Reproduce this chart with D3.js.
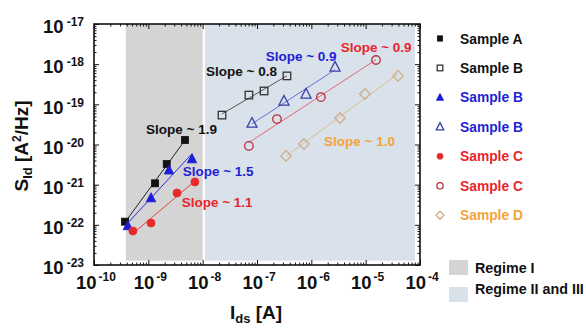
<!DOCTYPE html>
<html><head><meta charset="utf-8">
<script src="https://cdn.jsdelivr.net/npm/d3@7"></script>
<style>body{margin:0;background:#fff}svg{display:block;font-family:"Liberation Sans",Arial,sans-serif;font-weight:bold}</style>
</head><body><svg id="c" width="586" height="329"></svg>
<script>
// ---- data ----
const xDomain = [1e-10, 1e-4];
const yDomain = [1e-23, 1e-17];
const xTickExps = [-10, -9, -8, -7, -6, -5, -4];
const yTickExps = [-23, -22, -21, -20, -19, -18, -17];

const regimeI = [3.85e-10, 1.0e-8];
const regimeII = [1.1e-8, 8.1e-5];
const regimeY = [1.28e-23, 1e-17];

const aX = [3.72e-10, 1.33e-9, 2.18e-9, 4.73e-9];
const aY = [1.2e-22, 1.08e-21, 3.27e-21, 1.29e-20];
const bSqX = [2.27e-8, 7.1e-8, 1.35e-7, 3.56e-7];
const bSqY = [5.4e-20, 1.7e-19, 2.15e-19, 5.1e-19];
const bTriX = [4.2e-10, 1.12e-9, 2.4e-9, 6.37e-9];
const bTriY = [9.4e-23, 4.66e-22, 2.3e-21, 4.35e-21];
const bTriOX = [8.1e-8, 3.14e-7, 7.98e-7, 2.73e-6];
const bTriOY = [3.4e-20, 1.21e-19, 1.81e-19, 8.5e-19];
const cX = [5.2e-10, 1.12e-9, 3.37e-9, 7.2e-9];
const cY = [7.0e-23, 1.11e-22, 6.2e-22, 1.17e-21];
const cOX = [7.1e-8, 2.33e-7, 1.5e-6, 1.55e-5];
const cOY = [9.2e-21, 4.3e-20, 1.52e-19, 1.27e-18];
const dX = [3.42e-7, 7.3e-7, 3.37e-6, 9.7e-6, 3.94e-5];
const dY = [5.2e-21, 1.03e-20, 4.57e-20, 1.81e-19, 5.1e-19];

const legendLabels = ["Sample A", "Sample B", "Sample B", "Sample B", "Sample C", "Sample C", "Sample D"];
const slopeLabels = ["Slope ~ 1.9", "Slope ~ 0.8", "Slope ~ 1.5", "Slope ~ 0.9", "Slope ~ 1.1", "Slope ~ 0.9", "Slope ~ 1.0"];
const regimeLabels = ["Regime I", "Regime II and III"];

// ---- styles ----
const series = [
  {x: aX, y: aY, sym: "square", fill: "#111", stroke: "#111", line: "#222", text: "#111", size: 7},
  {x: bSqX, y: bSqY, sym: "square", fill: "none", stroke: "#333", line: "#555", text: "#111", size: 7.5},
  {x: bTriX, y: bTriY, sym: "triangle", fill: "#1d1dd8", stroke: "#1d1dd8", line: "#2b2bd8", text: "#1f1fd6", size: 9.5},
  {x: bTriOX, y: bTriOY, sym: "triangle", fill: "none", stroke: "#3a3fa8", line: "#6070d8", text: "#1f1fd6", size: 10},
  {x: cX, y: cY, sym: "circle", fill: "#e62a2a", stroke: "#e62a2a", line: "#e8443c", text: "#e8262b", size: 8},
  {x: cOX, y: cOY, sym: "circle", fill: "none", stroke: "#b8303e", line: "#e06a72", text: "#e8262b", size: 8.5},
  {x: dX, y: dY, sym: "diamond", fill: "none", stroke: "#cfae86", line: "#d8bc92", text: "#f2a43a", size: 9.5}
];
const slopeStyle = [
  {c: "#111", px: 146, py: 134},
  {c: "#111", px: 206, py: 75.7},
  {c: "#1f1fd6", px: 182.7, py: 175.7},
  {c: "#1f1fd6", px: 265.7, py: 61},
  {c: "#e8262b", px: 181.7, py: 206.7},
  {c: "#e8262b", px: 340.7, py: 51.7},
  {c: "#f2a43a", px: 324, py: 145.7}
];

const L = 94, R = 420, T = 24, B = 265;
const x = d3.scaleLog().domain(xDomain).range([L, R]);
const y = d3.scaleLog().domain(yDomain).range([B, T]);
const svg = d3.select("#c");

// regimes
svg.append("rect").attr("x", x(regimeI[0])).attr("width", x(regimeI[1]) - x(regimeI[0]))
  .attr("y", y(regimeY[1])).attr("height", y(regimeY[0]) - y(regimeY[1])).attr("fill", "#d4d4d4");
svg.append("rect").attr("x", x(regimeII[0])).attr("width", x(regimeII[1]) - x(regimeII[0]))
  .attr("y", y(regimeY[1])).attr("height", y(regimeY[0]) - y(regimeY[1])).attr("fill", "#d9e1ea");

// ticks
const majX = xTickExps.map(e => Math.pow(10, e));
const majY = yTickExps.map(e => Math.pow(10, e));
const minor = (exps) => { const a = []; for (let i = 0; i < exps.length - 1; i++) for (let k = 2; k <= 9; k++) a.push(k * Math.pow(10, exps[i])); return a; };
const minX = minor(xTickExps), minY = minor(yTickExps);
function addAxis(gen, tr, vals, size) {
  const g = svg.append("g").attr("transform", tr).call(gen.tickValues(vals).tickSize(size).tickFormat(""));
  g.select(".domain").remove();
  g.selectAll("line").attr("stroke", "#111").attr("stroke-width", 1);
}
addAxis(d3.axisBottom(x), `translate(0,${B})`, majX, -5);
addAxis(d3.axisBottom(x), `translate(0,${B})`, minX, -2.5);
addAxis(d3.axisTop(x), `translate(0,${T})`, majX, -5);
addAxis(d3.axisTop(x), `translate(0,${T})`, minX, -2.5);
addAxis(d3.axisLeft(y), `translate(${L},0)`, majY, -5);
addAxis(d3.axisLeft(y), `translate(${L},0)`, minY, -2.5);
addAxis(d3.axisRight(y), `translate(${R},0)`, majY, -5);
addAxis(d3.axisRight(y), `translate(${R},0)`, minY, -2.5);

svg.append("rect").attr("x", L).attr("y", T).attr("width", R - L).attr("height", B - T)
  .attr("fill", "none").attr("stroke", "#111").attr("stroke-width", 1.6);

// tick labels
xTickExps.forEach(e => {
  const t = svg.append("text").attr("x", x(Math.pow(10, e)) + 2).attr("y", 289).attr("text-anchor", "middle").attr("fill", "#111");
  t.append("tspan").attr("font-size", 18.5).text("10");
  t.append("tspan").attr("font-size", 12).attr("dx", 2).attr("dy", -8.5).text(e);
});
yTickExps.forEach(e => {
  const t = svg.append("text").attr("x", 84).attr("y", y(Math.pow(10, e)) + 9.3).attr("text-anchor", "end").attr("fill", "#111");
  t.append("tspan").attr("font-size", 18.5).text("10");
  t.append("tspan").attr("font-size", 12).attr("dx", 3).attr("dy", -7).text(e);
});

// axis titles
const xt = svg.append("text").attr("x", 256).attr("y", 319).attr("text-anchor", "middle").attr("font-size", 19).attr("fill", "#111");
xt.append("tspan").text("I");
xt.append("tspan").attr("font-size", 13).attr("dy", 4).text("ds");
xt.append("tspan").attr("dy", -4).text(" [A]");
const yt = svg.append("text").attr("transform", "translate(28,146) rotate(-90)").attr("text-anchor", "middle").attr("font-size", 19).attr("fill", "#111");
yt.append("tspan").text("S");
yt.append("tspan").attr("font-size", 13).attr("dy", 4).text("Id");
yt.append("tspan").attr("dy", -4).text(" [A");
yt.append("tspan").attr("font-size", 12).attr("dy", -7).text("2");
yt.append("tspan").attr("dy", 7).text("/Hz]");

// symbols
function sym(g, s, cx, cy, sc) {
  const sz = s.size * (sc || 1);
  let el;
  if (s.sym === "square") el = g.append("rect").attr("x", cx - sz / 2).attr("y", cy - sz / 2).attr("width", sz).attr("height", sz);
  else if (s.sym === "circle") el = g.append("circle").attr("cx", cx).attr("cy", cy).attr("r", sz / 2);
  else if (s.sym === "triangle") { const h = sz * 0.9; el = g.append("path").attr("d", `M${cx},${cy - h * 0.62}L${cx + sz / 2},${cy + h * 0.45}L${cx - sz / 2},${cy + h * 0.45}Z`); }
  else { const r = sz / 2 + 0.5; el = g.append("path").attr("d", `M${cx},${cy - r}L${cx + r},${cy}L${cx},${cy + r}L${cx - r},${cy}Z`); }
  el.attr("fill", s.fill).attr("stroke", s.stroke).attr("stroke-width", s.fill === "none" ? 1.3 : 0.8);
}

// fit lines and markers
series.forEach(s => {
  const lx = s.x.map(Math.log10), ly = s.y.map(Math.log10);
  const mx = d3.mean(lx), my = d3.mean(ly);
  const m = d3.sum(lx.map((v, i) => (v - mx) * (ly[i] - my))) / d3.sum(lx.map(v => (v - mx) * (v - mx)));
  const b = my - m * mx;
  const x0 = d3.min(lx), x1 = d3.max(lx);
  svg.append("line").attr("x1", x(Math.pow(10, x0))).attr("y1", y(Math.pow(10, m * x0 + b)))
    .attr("x2", x(Math.pow(10, x1))).attr("y2", y(Math.pow(10, m * x1 + b)))
    .attr("stroke", s.line).attr("stroke-width", 1);
  const g = svg.append("g");
  s.x.forEach((v, i) => sym(g, s, x(v), y(s.y[i])));
});

// slope labels
slopeLabels.forEach((t, i) => {
  svg.append("text").attr("x", slopeStyle[i].px).attr("y", slopeStyle[i].py).attr("font-size", 13.5)
    .attr("fill", slopeStyle[i].c).text(t);
});

// legend
legendLabels.forEach((t, i) => {
  const cy = 38.5 + i * 29.45;
  sym(svg.append("g"), series[i], 440, cy, 0.75);
  svg.append("text").attr("x", 460).attr("y", cy + 5).attr("font-size", 13.8).attr("fill", series[i].text).text(t);
});
const regFill = ["#d4d4d4", "#d9e1ea"];
const regY = [260, 287];
regimeLabels.forEach((t, i) => {
  svg.append("rect").attr("x", 449).attr("y", regY[i]).attr("width", 19).attr("height", 15).attr("fill", regFill[i]);
  svg.append("text").attr("x", 475).attr("y", [273, 293.5][i]).attr("font-size", 14.3).attr("fill", "#111").text(t);
});
</script></body></html>
